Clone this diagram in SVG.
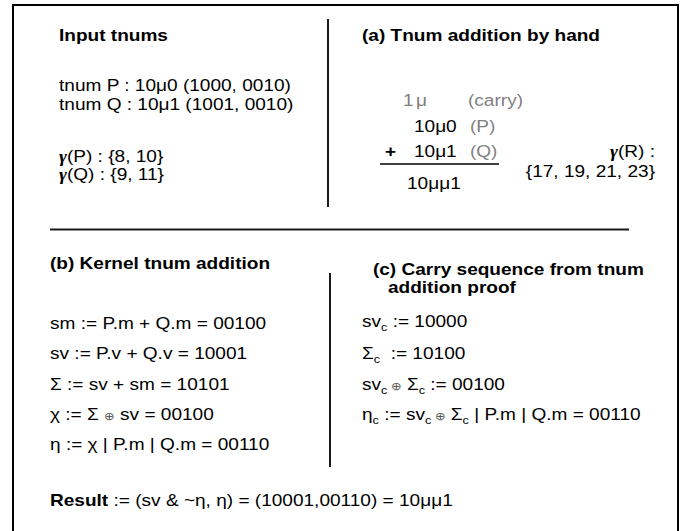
<svg xmlns="http://www.w3.org/2000/svg" width="686" height="531" viewBox="0 0 686 531">
<style>
text{font-family:"Liberation Sans",Arial,sans-serif;font-size:16.5px;fill:#000}
.b{font-weight:bold}
.g{fill:#808080}
.gm{font-family:"Liberation Serif","Times New Roman",serif;font-style:italic;font-weight:bold}
.sub{font-size:11px}
.op{font-size:11px;fill:#555}
.rule{stroke:#1a1a1a;stroke-width:2;fill:none}
</style>
<rect x="0" y="0" width="686" height="531" fill="#fff"/>
<rect x="13" y="5" width="665" height="545" fill="none" stroke="#000" stroke-width="2"/>
<g id="connectors">
<line class="rule" x1="328" y1="19" x2="328" y2="207"/>
<line class="rule" x1="50" y1="229.5" x2="629" y2="229.5"/>
<line class="rule" x1="330" y1="273" x2="330" y2="467"/>
<line x1="380" y1="164" x2="499" y2="164" stroke="#000" stroke-width="1.5"/>
</g>
<g transform="scale(1.155 1)">
<g id="input">
<text class="b" x="51.1" y="41">Input tnums</text>
<text x="51.1" y="91.5">tnum P : 10μ0 (1000, 0010)</text>
<text x="51.1" y="110">tnum Q : 10μ1 (1001, 0010)</text>
<text x="51.1" y="162"><tspan class="gm">γ</tspan>(P) : {8, 10}</text>
<text x="51.1" y="180.5"><tspan class="gm">γ</tspan>(Q) : {9, 11}</text>
</g>
<g id="hand">
<text class="b" x="313.4" y="41">(a) Tnum addition by hand</text>
<text class="g" x="348.9" y="106">1</text>
<text class="g" x="360.2" y="106">μ</text>
<text class="g" x="405.2" y="106">(carry)</text>
<text x="358.4" y="132">10μ0</text>
<text class="g" x="406.9" y="132">(P)</text>
<text class="b" x="333.3" y="157">+</text>
<text x="358.4" y="157">10μ1</text>
<text class="g" x="406.9" y="157">(Q)</text>
<text x="352.4" y="189">10μμ1</text>
<text x="567.1" y="157" text-anchor="end"><tspan class="gm">γ</tspan>(R) :</text>
<text x="567.1" y="177" text-anchor="end">{17, 19, 21, 23}</text>
</g>
<g id="kernel">
<text class="b" x="43.3" y="269">(b) Kernel tnum addition</text>
<text x="43.3" y="329">sm := P.m + Q.m = 00100</text>
<text x="43.3" y="359">sv := P.v + Q.v = 10001</text>
<text x="43.3" y="390">Σ := sv + sm = 10101</text>
<text x="43.3" y="420">χ := Σ <tspan class="op">⊕</tspan> sv = 00100</text>
<text x="43.3" y="450">η := χ | P.m | Q.m = 00110</text>
</g>
<g id="carry">
<text class="b" x="322.9" y="275">(c) Carry sequence from tnum</text>
<text class="b" x="335.9" y="293">addition proof</text>
<text x="313.4" y="327">sv<tspan class="sub" dy="4">c</tspan><tspan dy="-4"> := 10000</tspan></text>
<text x="313.4" y="359">Σ<tspan class="sub" dy="4">c</tspan><tspan dy="-4">&#160; := 10100</tspan></text>
<text x="313.4" y="390">sv<tspan class="sub" dy="4">c</tspan><tspan class="op" dy="-4"> ⊕</tspan> Σ<tspan class="sub" dy="4">c</tspan><tspan dy="-4"> := 00100</tspan></text>
<text x="313.4" y="420">η<tspan class="sub" dy="4">c</tspan><tspan dy="-4"> := sv</tspan><tspan class="sub" dy="4">c</tspan><tspan class="op" dy="-4"> ⊕</tspan> Σ<tspan class="sub" dy="4">c</tspan><tspan dy="-4"> | P.m | Q.m = 00110</tspan></text>
</g>
<g id="result">
<text x="43.3" y="506"><tspan class="b">Result</tspan> := (sv &amp; ~η, η) = (10001,00110) = 10μμ1</text>
</g>
</g>
</svg>
